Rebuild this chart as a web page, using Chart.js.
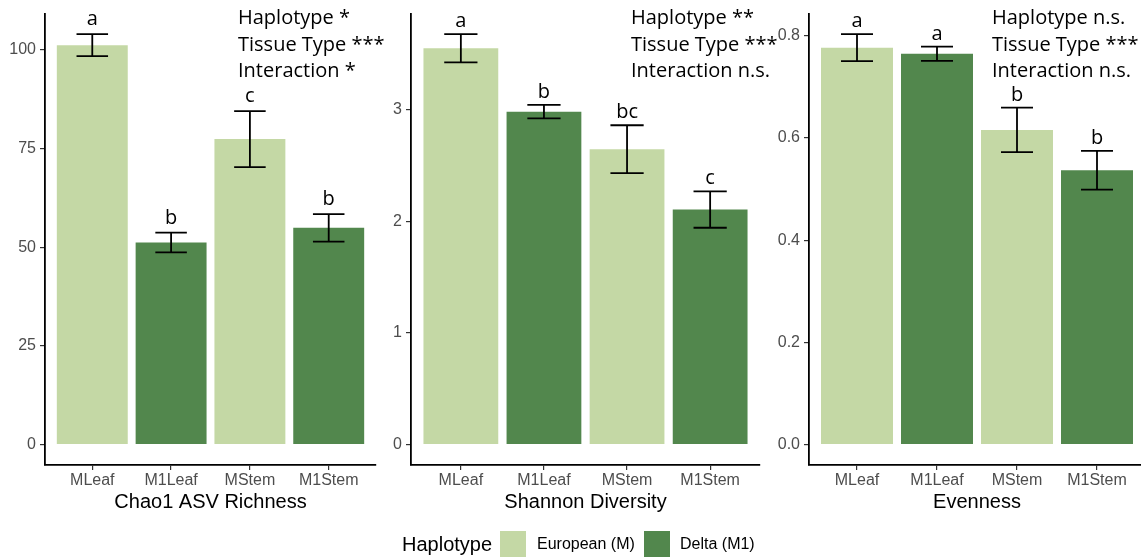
<!DOCTYPE html>
<html>
<head>
<meta charset="utf-8">
<script src="https://cdn.jsdelivr.net/npm/chart.js@4.4.1/dist/chart.umd.min.js"></script>
<style>
  html, body { margin: 0; padding: 0; background: #fff; overflow: hidden; }
  #wrap { position: relative; width: 1141px; height: 560px; }
  #wrap canvas { position: absolute; top: 0; }
  #legend { position: absolute; left: 0; top: 531px; height: 26px; width: 1141px; font-family: "Liberation Sans", Arial, sans-serif; }
  #legend .ltitle { position: absolute; font-size: 20px; line-height: 26px; color: #000; }
  #legend .key { position: absolute; width: 26px; height: 26px; top: 0; }
  #legend .ltext { position: absolute; font-size: 16px; line-height: 26px; color: #000; }
</style>
</head>
<body>
<div id="wrap">
  <canvas id="chaoChart" style="left:0px" width="420" height="520"></canvas>
  <canvas id="shannonChart" style="left:380px" width="420" height="520"></canvas>
  <canvas id="evennessChart" style="left:760px" width="385" height="520"></canvas>
  <div id="legend"></div>
</div>

<script>
// Data
const categories = ['MLeaf', 'M1Leaf', 'MStem', 'M1Stem'];
const haplotypes = ['European (M)', 'Delta (M1)'];

const chaoMeans = [101.2, 51.2, 77.4, 54.9];
const chaoSE = [2.8, 2.5, 7.1, 3.5];
const chaoLetters = ['a', 'b', 'c', 'b'];
const chaoTicks = [0, 25, 50, 75, 100];
const chaoStats = ['Haplotype *', 'Tissue Type ***', 'Interaction *'];

const shannonMeans = [3.552, 2.984, 2.647, 2.106];
const shannonSE = [0.127, 0.06, 0.215, 0.163];
const shannonLetters = ['a', 'b', 'bc', 'c'];
const shannonTicks = [0, 1, 2, 3];
const shannonStats = ['Haplotype **', 'Tissue Type ***', 'Interaction n.s.'];

const evenMeans = [0.777, 0.765, 0.616, 0.537];
const evenSE = [0.0265, 0.014, 0.0435, 0.038];
const evenLetters = ['a', 'a', 'b', 'b'];
const evenTicks = [0, 0.2, 0.4, 0.6, 0.8];
const evenStats = ['Haplotype n.s.', 'Tissue Type ***', 'Interaction n.s.'];

const LIGHT = '#c4d8a5';
const DARK = '#52874d';
const tickFont = { family: '"Liberation Sans", Arial, sans-serif', size: 16 };
const annoFont = '20px "Open Sans", sans-serif';

// Error bars, significance letters and the ANOVA text
const extrasPlugin = {
  id: 'extras',
  afterDatasetsDraw(chart, args, opts) {
    const { ctx, scales: { x, y } } = chart;
    const means = chart.data.datasets[0].data.map(d => d.y);
    ctx.save();
    ctx.strokeStyle = '#000';
    ctx.lineWidth = 1.8;
    ctx.fillStyle = '#000';
    ctx.font = annoFont;
    ctx.textAlign = 'center';
    ctx.textBaseline = 'alphabetic';
    means.forEach((m, i) => {
      const cx = x.getPixelForValue(i + 1);
      const half = (x.getPixelForValue(i + 1.2) - x.getPixelForValue(i + 0.8)) / 2;
      const top = y.getPixelForValue(m + opts.se[i]);
      const bot = y.getPixelForValue(m - opts.se[i]);
      ctx.beginPath();
      ctx.moveTo(cx - half, top); ctx.lineTo(cx + half, top);
      ctx.moveTo(cx, top); ctx.lineTo(cx, bot);
      ctx.moveTo(cx - half, bot); ctx.lineTo(cx + half, bot);
      ctx.stroke();
      ctx.fillText(opts.letters[i], cx, top - opts.letterGap);
    });
    ctx.textAlign = 'left';
    opts.stats.forEach((s, i) => {
      ctx.fillText(s, opts.statsX, 24 + i * 26.7);
    });
    ctx.restore();
  }
};

function makePanel(id, cfg) {
  const top = Math.max(...cfg.means.map((m, i) => m + cfg.se[i]));
  return new Chart(document.getElementById(id), {
    type: 'bar',
    data: {
      datasets: [{
        data: cfg.means.map((v, i) => ({ x: i + 1, y: v })),
        backgroundColor: categories.map(c => c.startsWith('M1') ? DARK : LIGHT),
        borderWidth: 0,
        barPercentage: 0.9,
        categoryPercentage: 1.0
      }]
    },
    plugins: [extrasPlugin],
    options: {
      responsive: false,
      animation: false,
      layout: { padding: { top: 10, right: cfg.padRight, left: 0, bottom: 0 } },
      plugins: {
        legend: { display: false },
        tooltip: { enabled: false },
        extras: { se: cfg.se, letters: cfg.letters, stats: cfg.stats, statsX: cfg.statsX, letterGap: cfg.letterGap }
      },
      scales: {
        x: {
          type: 'linear',
          offset: false,
          min: 0.4,
          max: 4.6,
          afterBuildTicks: s => { s.ticks = categories.map((c, i) => ({ value: i + 1 })); },
          afterFit: s => { s.height = 55; },
          ticks: {
            callback: v => categories[v - 1],
            color: '#4d4d4d',
            font: tickFont,
            padding: 1,
            autoSkip: false,
            maxRotation: 0
          },
          grid: { offset: false, drawOnChartArea: false, drawTicks: true, tickLength: 5, color: '#333', lineWidth: 1.2 },
          border: { display: true, color: '#000', width: 1.8 },
          title: {
            display: true,
            text: cfg.title,
            color: '#000',
            font: { family: '"Liberation Sans", Arial, sans-serif', size: 20 },
            padding: { top: 0, bottom: 6 }
          }
        },
        y: {
          min: -0.05 * top,
          max: 1.05 * top,
          afterBuildTicks: s => { s.ticks = cfg.ticks.map(v => ({ value: v })); },
          afterFit: s => { s.width = cfg.axisWidth; },
          ticks: {
            callback: v => cfg.decimals ? v.toFixed(cfg.decimals) : String(v),
            color: '#4d4d4d',
            font: tickFont,
            padding: 4
          },
          grid: { drawOnChartArea: false, drawTicks: true, tickLength: 5, color: '#333', lineWidth: 1.2 },
          border: { display: true, color: '#000', width: 1.8 }
        }
      }
    }
  });
}

makePanel('chaoChart', {
  means: chaoMeans, se: chaoSE, letters: chaoLetters, ticks: chaoTicks, stats: chaoStats,
  title: 'Chao1 ASV Richness', axisWidth: 45, padRight: 44, statsX: 238, letterGap: 9, decimals: 0
});
makePanel('shannonChart', {
  means: shannonMeans, se: shannonSE, letters: shannonLetters, ticks: shannonTicks, stats: shannonStats,
  title: 'Shannon Diversity', axisWidth: 31, padRight: 40, statsX: 251, letterGap: 7, decimals: 0
});
makePanel('evennessChart', {
  means: evenMeans, se: evenSE, letters: evenLetters, ticks: evenTicks, stats: evenStats,
  title: 'Evenness', axisWidth: 49, padRight: 0, statsX: 232, letterGap: 7, decimals: 1
});

// Legend
const legend = document.getElementById('legend');
legend.innerHTML = `
  <span class="ltitle" style="left:402px">Haplotype</span>
  <span class="key" style="left:500px;background:${LIGHT}"></span>
  <span class="ltext" style="left:537px">${haplotypes[0]}</span>
  <span class="key" style="left:644px;background:${DARK}"></span>
  <span class="ltext" style="left:680px">${haplotypes[1]}</span>
`;
</script>
</body>
</html>
